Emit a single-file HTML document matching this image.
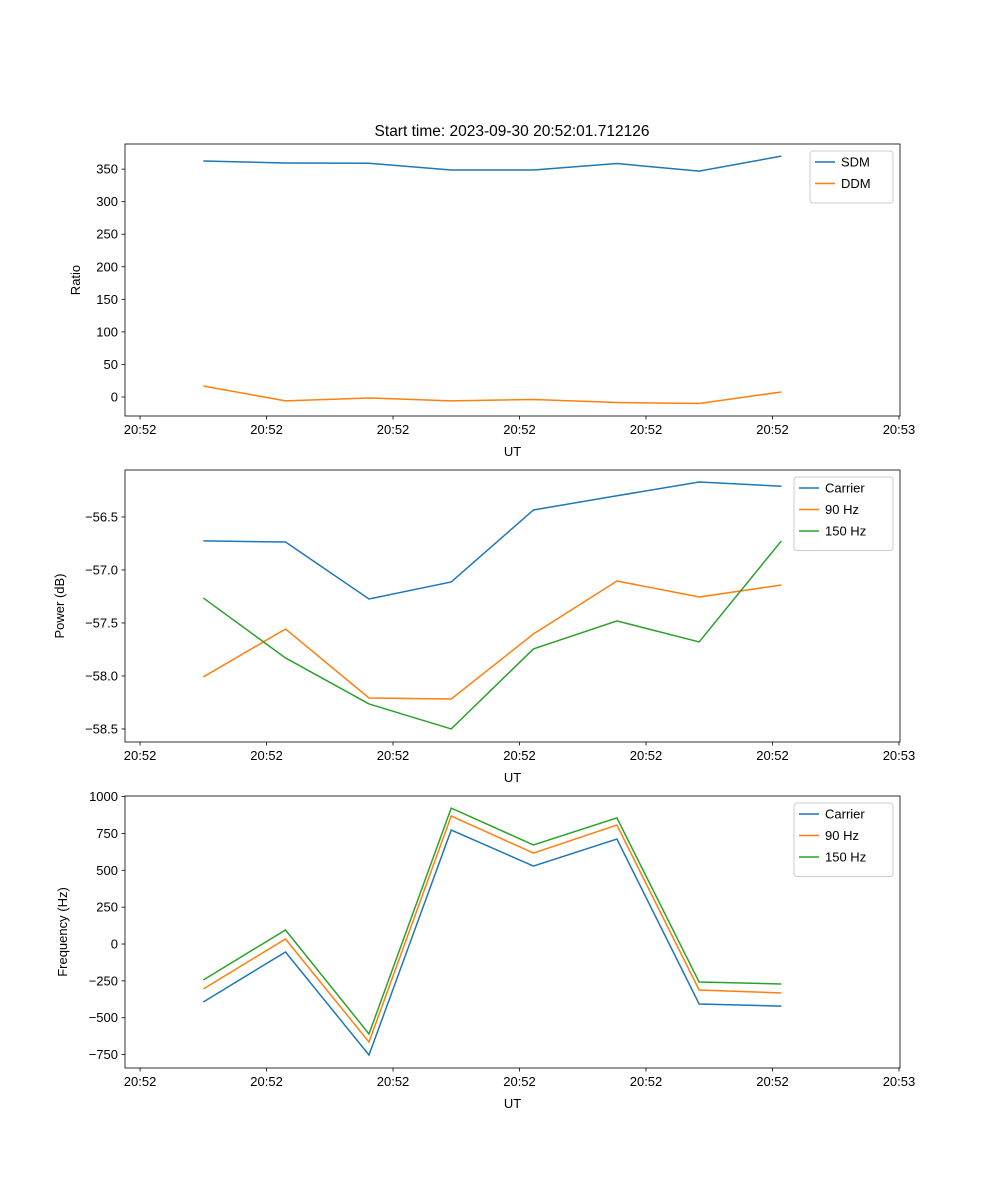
<!DOCTYPE html>
<html><head><meta charset="utf-8"><style>
body{margin:0;background:#fff}
svg{font-family:"Liberation Sans","DejaVu Sans",sans-serif;display:block}
</style></head><body>
<svg id="fig" width="1000" height="1200">
<text x="512" y="136" font-size="15.5" text-anchor="middle">Start time: 2023-09-30 20:52:01.712126</text>
</svg>
<script>
const times = [5.0, 11.5, 18.1, 24.6, 31.1, 37.7, 44.2, 50.7];
const xTickValues = [0, 10, 20, 30, 40, 50, 60];
const xTickLabels = ["20:52","20:52","20:52","20:52","20:52","20:52","20:53"];
const sdm = [362.5, 359.4, 359.0, 348.7, 348.7, 358.6, 347.0, 370.0];
const ddm = [16.9, -6.0, -1.5, -6.0, -3.8, -8.4, -10.0, 7.7];
const ratioTicks = [0, 50, 100, 150, 200, 250, 300, 350];
const powCarrier = [-56.726, -56.736, -57.274, -57.113, -56.434, -56.30, -56.17, -56.21];
const pow90 = [-58.009, -57.557, -58.208, -58.217, -57.604, -57.104, -57.255, -57.142];
const pow150 = [-57.264, -57.83, -58.264, -58.5, -57.745, -57.481, -57.679, -56.726];
const powTicks = [-58.5, -58.0, -57.5, -57.0, -56.5];
const freqCarrier = [-393, -54, -753, 773, 529, 712, -407, -421];
const freq90 = [-305, 34, -665, 868, 617, 807, -312, -332];
const freq150 = [-244, 95, -610, 922, 672, 855, -258, -271];
const freqTicks = [-750, -500, -250, 0, 250, 500, 750, 1000];

const NS = "http://www.w3.org/2000/svg";
const fig = document.getElementById('fig');
const C = {blue:"#1f77b4", orange:"#ff7f0e", green:"#2ca02c"};
function mk(tag, attrs, parent){const e=document.createElementNS(NS,tag);for(const k in attrs)e.setAttribute(k,attrs[k]);(parent||fig).appendChild(e);return e;}
const L=125,R=900;
const xMin=-1.19, xMax=60.08;
function xs(t){return L+(t-xMin)/(xMax-xMin)*(R-L);}

function panel(name, top, bottom, yMin, yMax, yTicks, yFmt, yLabel, series, legendW){
  const g=mk('g',{});
  
  
  const ys=v=>bottom-(v-yMin)/(yMax-yMin)*(bottom-top);
  series.forEach(s=>{
    const p=mk('polyline',{points:times.map((t,i)=>xs(t)+','+ys(s.vals[i])).join(' '),fill:'none',stroke:s.color,'stroke-width':1.5},g);
    
    
  });
  const fr=mk('rect',{x:L,y:top,width:R-L,height:bottom-top,fill:'none',stroke:'#000','stroke-width':0.8},g);
  
  
  xTickValues.forEach((v,i)=>{
    const x=xs(v);
    mk('line',{x1:x,x2:x,y1:bottom,y2:bottom+3.5,stroke:'#000','stroke-width':0.8},g);
    const t=mk('text',{x:x,y:bottom+18,'font-size':13,'text-anchor':'middle'},g);
    t.textContent=xTickLabels[i];
    
    
  });
  const xl=mk('text',{x:(L+R)/2,y:bottom+40,'font-size':13,'text-anchor':'middle'},g);
  xl.textContent='UT';
  
  
  yTicks.forEach(v=>{
    const y=ys(v);
    mk('line',{x1:L-3.5,x2:L,y1:y,y2:y,stroke:'#000','stroke-width':0.8},g);
    const t=mk('text',{x:L-7,y:y+4.5,'font-size':13,'text-anchor':'end'},g);
    t.textContent=yFmt(v);
    
    
  });
  const yx = name==='ratio'?80:(name==='power'?64:67);
  const yl=mk('text',{x:yx,y:(top+bottom)/2,'font-size':13,'text-anchor':'middle',transform:`rotate(-90 ${yx} ${(top+bottom)/2})`},g);
  yl.textContent=yLabel;
  
  
  const lx=R-7-legendW, ly=top+7, lh=series.length*21.5+9;
  const lg=mk('g',{},g);
  
  
  mk('rect',{x:lx,y:ly,width:legendW,height:lh,rx:3,fill:'#fff','fill-opacity':0.8,stroke:'#ccc'},lg);
  series.forEach((s,i)=>{
    const yy=ly+11+i*21.5;
    const e=mk('g',{},lg);
    
    
    mk('line',{x1:lx+5,x2:lx+25,y1:yy,y2:yy,stroke:s.color,'stroke-width':1.5},e);
    const t=mk('text',{x:lx+31,y:yy+4.5,'font-size':13},e);
    t.textContent=s.label;
  });
}
panel('ratio',144,416,-29.2,388.6,ratioTicks,v=>String(v),'Ratio',
  [{key:'sdm',label:'SDM',vals:sdm,color:C.blue},{key:'ddm',label:'DDM',vals:ddm,color:C.orange}],83);
panel('power',470,742,-58.623,-56.057,powTicks,v=>v.toFixed(1).replace('-','\u2212'),'Power (dB)',
  [{key:'carrier',label:'Carrier',vals:powCarrier,color:C.blue},{key:'90hz',label:'90 Hz',vals:pow90,color:C.orange},{key:'150hz',label:'150 Hz',vals:pow150,color:C.green}],99);
panel('frequency',796,1068,-841,1004,freqTicks,v=>String(v).replace('-','\u2212'),'Frequency (Hz)',
  [{key:'carrier',label:'Carrier',vals:freqCarrier,color:C.blue},{key:'90hz',label:'90 Hz',vals:freq90,color:C.orange},{key:'150hz',label:'150 Hz',vals:freq150,color:C.green}],99);
</script>
</body></html>
